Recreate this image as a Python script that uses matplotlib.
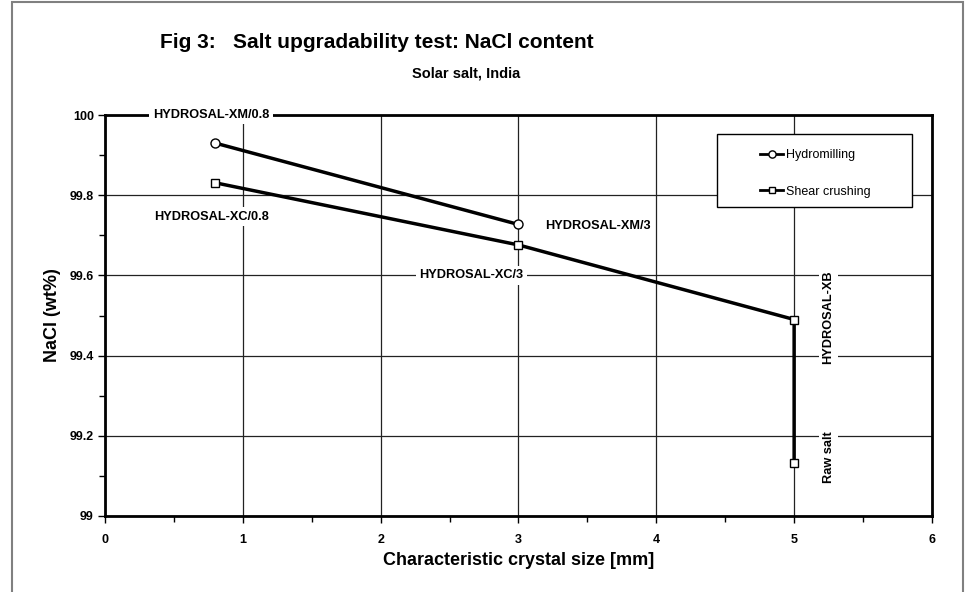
import numpy as np
import matplotlib.pyplot as plt
from matplotlib.patches import Rectangle

plt.rcParams['font.family'] = ['Liberation Sans', 'DejaVu Sans']

# Data
hydro_x = [0.8, 3.0]
hydro_y = [99.93, 99.727]
shear_x = [0.8, 3.0, 5.0, 5.0]
shear_y = [99.831, 99.676, 99.49, 99.131]

# Point labels: (text, x, y, rotation)
labels = [
    ("HYDROSAL-XM/0.8", 0.77, 100.0, 0),
    ("HYDROSAL-XC/0.8", 0.77, 99.746, 0),
    ("HYDROSAL-XM/3", 3.58, 99.724, 0),
    ("HYDROSAL-XC/3", 2.66, 99.6, 0),
    ("HYDROSAL-XB", 5.25, 99.495, 90),
    ("Raw salt", 5.25, 99.147, 90),
]

fig = plt.figure(figsize=(9.71, 5.92), dpi=100)
ax = fig.add_axes([0.1081, 0.1284, 0.8517, 0.6773])

# Outer frame around the whole figure
fig.patches.append(Rectangle((12/971, -0.02), (963-12)/971, 1.02 - 2/592,
                             transform=fig.transFigure, fill=False,
                             edgecolor='#808080', linewidth=1.5))

ax.set_xlim(0, 6)
ax.set_ylim(99, 100)
ax.set_xticks(np.arange(0, 7, 1))
ax.set_xticks(np.arange(0, 6.5, 0.5), minor=True)
ax.set_yticks([99, 99.2, 99.4, 99.6, 99.8, 100])
ax.set_yticks(np.arange(99, 100.05, 0.1), minor=True)
ax.set_yticklabels(['99', '99.2', '99.4', '99.6', '99.8', '100'])
ax.tick_params(which='both', direction='out', width=1, colors='black',
               labelsize=9)
ax.tick_params(which='major', length=5, pad=3)
ax.tick_params(which='minor', length=4)
for lab in ax.get_xticklabels() + ax.get_yticklabels():
    lab.set_fontweight('bold')
ax.tick_params(axis='x', pad=8)

for s in ax.spines.values():
    s.set_linewidth(2)

ax.grid(which='major', color='#222222', linewidth=0.9)
ax.set_axisbelow(True)

ax.plot(hydro_x, hydro_y, color='black', linewidth=2.5, marker='o',
        markersize=6.5, markerfacecolor='white', markeredgecolor='black',
        markeredgewidth=1, label='Hydromilling', zorder=3)
ax.plot(shear_x, shear_y, color='black', linewidth=2.5, marker='s',
        markersize=5.5, markerfacecolor='white', markeredgecolor='black',
        markeredgewidth=1, label='Shear crushing', zorder=3)

for text, x, y, rot in labels:
    ax.text(x, y, text, rotation=rot, ha='center', va='center',
            fontsize=9.2, fontweight='bold', zorder=4, clip_on=False,
            bbox=dict(facecolor='white', edgecolor='none', pad=2.5))

# Legend box drawn separately so it can be wider than its contents
ax.add_patch(Rectangle((0.740, 0.7706), 0.2358, 0.182, transform=ax.transAxes,
                       facecolor='white', edgecolor='black', linewidth=1,
                       zorder=4.5))
leg = ax.legend(loc='upper left', bbox_to_anchor=(0.792, 0.9145),
                fontsize=9, frameon=False, handlelength=1.85,
                handletextpad=0.2, labelspacing=1.95, borderpad=0,
                borderaxespad=0, markerscale=0.8)
leg.set_zorder(5)
for h in leg.get_lines():
    h.set_linewidth(2)

ax.set_xlabel('Characteristic crystal size [mm]', fontsize=13,
              fontweight='bold', labelpad=4)
ax.set_ylabel('NaCl (wt%)', fontsize=13, fontweight='bold', labelpad=6)

fig.text(377/971, 1 - 42/592, 'Fig 3:   Salt upgradability test: NaCl content',
         ha='center', va='center', fontsize=15, fontweight='bold')
fig.text(466/971, 1 - 73/592, 'Solar salt, India', ha='center', va='center',
         fontsize=10.5, fontweight='bold')

fig.savefig('out.png', dpi=100)
